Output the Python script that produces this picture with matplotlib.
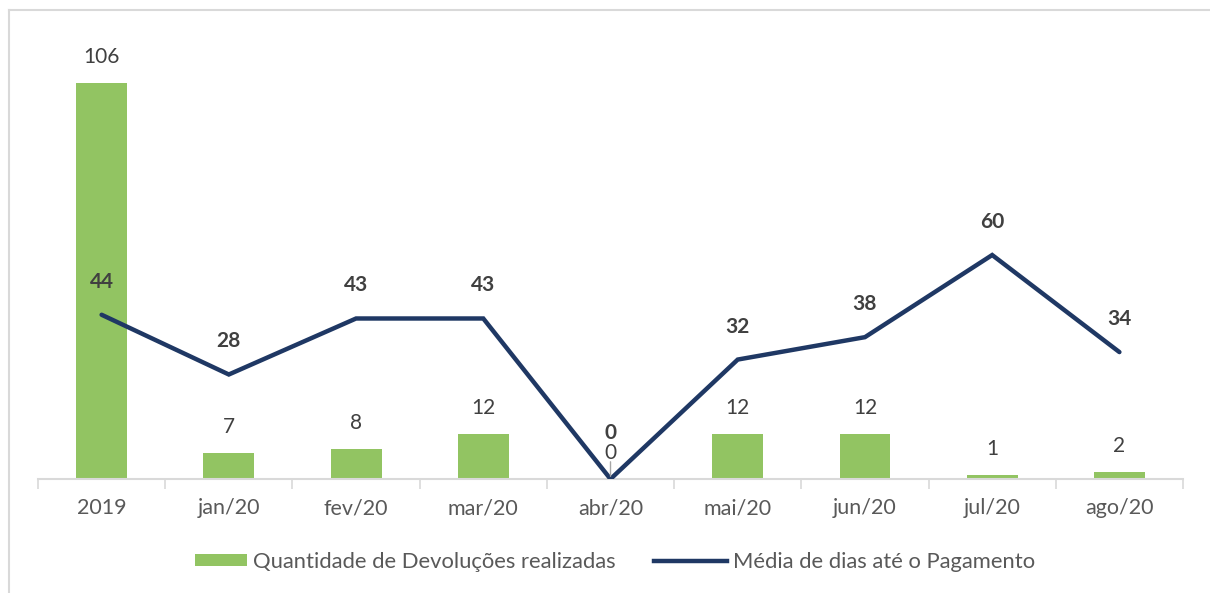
import matplotlib.pyplot as plt
from matplotlib.patches import Rectangle, Patch
from matplotlib.lines import Line2D
from matplotlib.legend_handler import HandlerPatch

plt.rcParams['font.family'] = ['Lato', 'DejaVu Sans']

categories = ["2019", "jan/20", "fev/20", "mar/20", "abr/20", "mai/20", "jun/20", "jul/20", "ago/20"]
devolucoes = [106, 7, 8, 12, 0, 12, 12, 1, 2]
media_dias = [44, 28, 43, 43, 0, 32, 38, 60, 34]

bar_color = "#92C462"
line_color = "#1F3864"
text_color = "#404040"
axis_gray = "#D9D9D9"

fig = plt.figure(figsize=(12.10, 5.93), dpi=100)
ax = fig.add_axes([0.0314, 0.1922, 0.9463, 0.7555])

x = list(range(len(categories)))
ax.bar(x, devolucoes, width=0.4, color=bar_color, zorder=2)
ax.plot(x, media_dias, color=line_color, lw=3.2, solid_capstyle="round",
        solid_joinstyle="miter", zorder=3)

for xi, v in zip(x, devolucoes):
    ax.annotate(str(v), (xi, v), xytext=(0, 26), textcoords="offset pixels",
                ha="center", va="center", fontsize=15, color=text_color)

for xi, v in zip(x, media_dias):
    dy = 46 if v == 0 else 33
    ax.annotate(str(v), (xi, v), xytext=(0, dy), textcoords="offset pixels",
                ha="center", va="center", fontsize=15, color=text_color,
                fontweight="bold")

# leader line for the zero label
i0 = media_dias.index(0)
ax.annotate("", (x[i0], 0), xytext=(0, 20), textcoords="offset pixels",
            arrowprops=dict(arrowstyle="-", color="#A6A6A6", lw=1))

ax.set_xlim(-0.5, len(categories) - 0.5)
ax.set_ylim(0, 120)
ax.set_xticks(x)
ax.set_xticklabels(categories, fontsize=15.5, color="#595959")
ax.set_xticks([i - 0.5 for i in range(len(categories) + 1)], minor=True)
ax.tick_params(axis="x", which="major", length=0, pad=14)
ax.tick_params(axis="x", which="minor", length=7, width=1.2, color=axis_gray, direction="out")
ax.set_yticks([])
for s in ["top", "right", "left"]:
    ax.spines[s].set_visible(False)
ax.spines["bottom"].set_color(axis_gray)
ax.spines["bottom"].set_linewidth(1.5)


def short_patch(legend, orig_handle, xdescent, ydescent, width, height, fontsize):
    w = width * 52 / 73
    return Rectangle((width - w - xdescent, -ydescent), w, height)


handles = [Patch(facecolor=bar_color, edgecolor="none"),
           Line2D([0], [0], color=line_color, lw=3.2)]
fig.legend(handles, ["Quantidade de Devoluções realizadas", "Média de dias até o Pagamento"],
           loc="center", bbox_to_anchor=(0.5, 0.053), ncol=2, frameon=False,
           fontsize=15.8, labelcolor="#595959", handlelength=3.3, handleheight=0.45,
           columnspacing=1.75, handletextpad=0.3,
           handler_map={Patch: HandlerPatch(patch_func=short_patch)})

# chart frame: only left and top edges are visible in the cropped source
fig.add_artist(Line2D([9 / 1210, 9 / 1210], [0, 1 - 10 / 593], transform=fig.transFigure,
                      color=axis_gray, lw=1.5))
fig.add_artist(Line2D([9 / 1210, 1], [1 - 10 / 593, 1 - 10 / 593], transform=fig.transFigure,
                      color=axis_gray, lw=1.5))

fig.savefig("out.png", dpi=100)
